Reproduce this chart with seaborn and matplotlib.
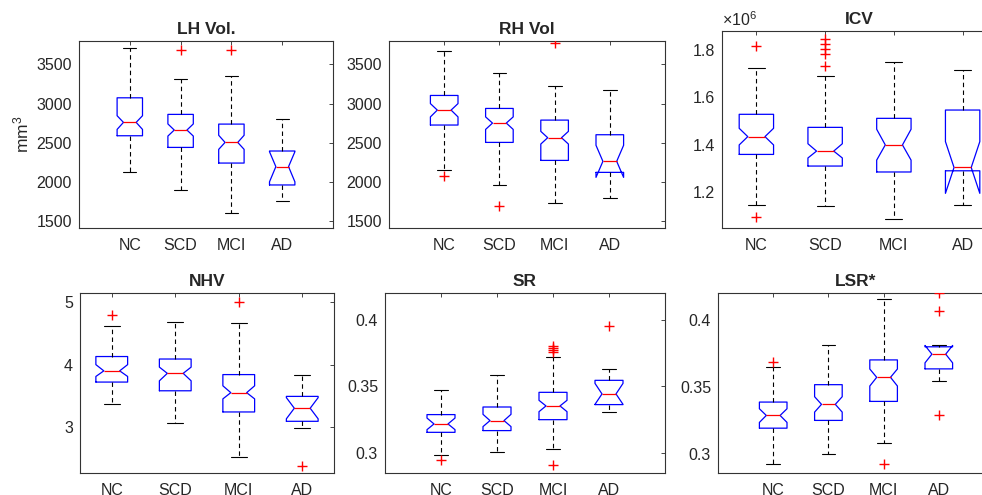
import pandas as pd
import seaborn as sns
import matplotlib.pyplot as plt
from matplotlib.ticker import FuncFormatter

GROUPS = ["NC", "SCD", "MCI", "AD"]

# per group: whisker low, q1, median, q3, whisker high, notch low, notch high
LH_BOX = [
    [2126, 2589, 2760, 3074, 3713, 2670, 2845],
    [1891, 2440, 2662, 2862, 3313, 2585, 2740],
    [1598, 2240, 2504, 2738, 3347, 2415, 2595],
    [1751, 1960, 2194, 2394, 2798, 2000, 2385],
]
LH_OUT = [[], [3691], [3683], []]

RH_BOX = [
    [2151, 2726, 2917, 3104, 3666, 2830, 3000],
    [1964, 2504, 2751, 2938, 3394, 2670, 2830],
    [1734, 2274, 2564, 2789, 3223, 2483, 2645],
    [1798, 2121, 2262, 2602, 3172, 2057, 2467],
]
RH_OUT = [[2079], [1687], [3777], []]

ICV_BOX = [
    [1.148e6, 1.360e6, 1.435e6, 1.529e6, 1.723e6, 1.400e6, 1.470e6],
    [1.144e6, 1.311e6, 1.374e6, 1.474e6, 1.689e6, 1.345e6, 1.405e6],
    [1.089e6, 1.286e6, 1.400e6, 1.512e6, 1.751e6, 1.336e6, 1.466e6],
    [1.148e6, 1.291e6, 1.305e6, 1.547e6, 1.714e6, 1.196e6, 1.414e6],
]
ICV_OUT = [[1.818e6, 1.097e6], [1.848e6, 1.825e6, 1.803e6, 1.782e6, 1.731e6], [], []]

NHV_BOX = [
    [3.36, 3.72, 3.90, 4.13, 4.62, 3.81, 4.00],
    [3.06, 3.58, 3.86, 4.09, 4.68, 3.74, 3.96],
    [2.52, 3.24, 3.55, 3.84, 4.67, 3.45, 3.66],
    [2.98, 3.09, 3.30, 3.49, 3.83, 3.13, 3.47],
]
NHV_OUT = [[4.79], [], [5.0], [2.38]]

SR_BOX = [
    [0.2988, 0.3155, 0.3218, 0.3288, 0.3475, 0.3175, 0.3262],
    [0.3008, 0.3168, 0.3243, 0.3345, 0.3583, 0.3198, 0.3290],
    [0.3033, 0.3250, 0.3353, 0.3455, 0.3718, 0.3310, 0.3395],
    [0.3305, 0.3363, 0.3443, 0.3545, 0.3628, 0.3365, 0.3522],
]
SR_OUT = [[0.2948], [], [0.3800, 0.3785, 0.3773, 0.3760, 0.2910], [0.3955]]

LSR_BOX = [
    [0.2925, 0.3190, 0.3285, 0.3385, 0.3648, 0.3233, 0.3335],
    [0.2998, 0.3248, 0.3368, 0.3515, 0.3808, 0.3310, 0.3425],
    [0.3080, 0.3390, 0.3570, 0.3700, 0.4155, 0.3505, 0.3632],
    [0.3540, 0.3633, 0.3743, 0.3798, 0.3810, 0.3678, 0.3808],
]
LSR_OUT = [[0.3683], [], [0.2923], [0.4198, 0.4063, 0.3285]]

sns.set_style("white")
plt.rcParams['font.family'] = ['Liberation Sans', 'DejaVu Sans']
plt.rcParams['mathtext.fontset'] = 'custom'
plt.rcParams['mathtext.rm'] = 'Liberation Sans'
plt.rcParams['mathtext.it'] = 'Liberation Sans:italic'

W, H = 982, 495
fig = plt.figure(figsize=(W / 100, H / 100), dpi=100)


def make_ax(left, right, top, bottom):
    return fig.add_axes([left / W, 1 - bottom / H, (right - left) / W, (bottom - top) / H])


def panel(ax, title, box, out, ylim, yticks, xlim, scale=1.0):
    stats = []
    for b in box:
        stats.append(dict(whislo=b[0], q1=b[1], med=b[2], q3=b[3], whishi=b[4],
                          cilo=b[5], cihi=b[6]))
    ax.bxp(stats, positions=range(len(GROUPS)), widths=0.5, shownotches=True,
           showfliers=False, manage_ticks=False,
           boxprops=dict(color='blue', linewidth=0.9),
           medianprops=dict(color='red', linewidth=0.9),
           whiskerprops=dict(color='black', linewidth=0.8, linestyle=(0, (4, 3))),
           capprops=dict(color='black', linewidth=0.8))

    rows = [(g, v) for g, vals in zip(GROUPS, out) for v in vals]
    df = pd.DataFrame(rows, columns=['group', 'value'])
    sns.stripplot(data=df, x='group', y='value', order=GROUPS, jitter=False,
                  marker='+', color='red', edgecolor='red', linewidth=1.0,
                  size=7, ax=ax)

    ax.set_xlim(*xlim)
    ax.set_ylim(*ylim)
    ax.set_yticks(yticks)
    ax.yaxis.set_major_formatter(FuncFormatter(lambda v, p: f'{v / scale:g}'))
    ax.set_xticks(range(len(GROUPS)))
    ax.set_xticklabels(GROUPS)
    ax.set_xlabel('')
    ax.set_ylabel('')
    ax.set_title(title, fontsize=12.5, fontweight='bold', pad=5)
    ax.tick_params(direction='in', length=3, width=0.6, top=True, right=True,
                   labelsize=11.5, colors='0.15', pad=5)
    ax.tick_params(axis='x', pad=7)
    for s in ax.spines.values():
        s.set_color('0.2')
        s.set_linewidth(0.8)


ax1 = make_ax(79, 333, 41, 228)
panel(ax1, 'LH Vol.', LH_BOX, LH_OUT, (1410, 3800), [1500, 2000, 2500, 3000, 3500], (-1, 4))
ax1.set_ylabel('mm$^3$', fontsize=12.5, labelpad=4)

ax2 = make_ax(389, 665, 41, 228)
panel(ax2, 'RH Vol', RH_BOX, RH_OUT, (1410, 3800), [1500, 2000, 2500, 3000, 3500], (-1, 4))

ax3 = make_ax(722, 997, 31, 228)
panel(ax3, 'ICV', ICV_BOX, ICV_OUT, (1.05e6, 1.88e6), [1.2e6, 1.4e6, 1.6e6, 1.8e6], (-0.5, 3.5), scale=1e6)
ax3.text(0.0, 1.01, r'$\times10^{6}$', transform=ax3.transAxes, fontsize=11.5,
         color='0.15', ha='left', va='bottom')

ax4 = make_ax(80, 334, 293, 473)
panel(ax4, 'NHV', NHV_BOX, NHV_OUT, (2.26, 5.15), [3, 4, 5], (-0.5, 3.5))

ax5 = make_ax(385, 665, 293, 473)
panel(ax5, 'SR', SR_BOX, SR_OUT, (0.285, 0.42), [0.3, 0.35, 0.4], (-1, 4))

ax6 = make_ax(718, 994, 293, 473)
panel(ax6, 'LSR*', LSR_BOX, LSR_OUT, (0.2855, 0.42), [0.3, 0.35, 0.4], (-1, 4))

fig.savefig('out.png', dpi=100)
